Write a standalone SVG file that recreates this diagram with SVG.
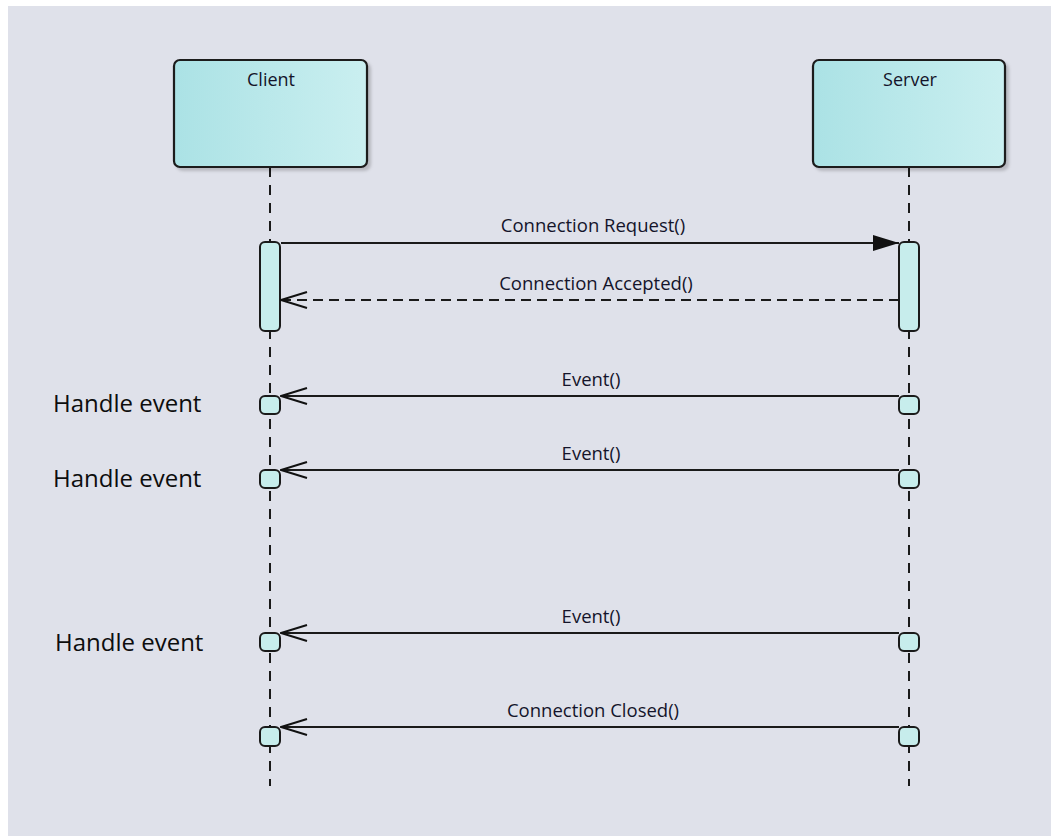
<svg xmlns="http://www.w3.org/2000/svg" width="1051" height="836" viewBox="0 0 1051 836">
  <defs>
    <linearGradient id="headFill" x1="0" y1="0" x2="1" y2="0">
      <stop offset="0" stop-color="#ABE2E5"/>
      <stop offset="1" stop-color="#CAEFF0"/>
    </linearGradient>
    <marker id="arrowFilled" viewBox="0 0 26 16" refX="26" refY="8" markerWidth="26" markerHeight="16" markerUnits="userSpaceOnUse" orient="auto">
      <path d="M0,0 L26,8 L0,16 Z" fill="#111"/>
    </marker>
    <marker id="arrowOpen" viewBox="0 0 28 20" refX="27" refY="10" markerWidth="28" markerHeight="20" markerUnits="userSpaceOnUse" orient="auto">
      <path d="M1,2 L27,10 L1,18" fill="none" stroke="#111" stroke-width="2"/>
    </marker>
    <filter id="shadow" x="-10%" y="-10%" width="130%" height="130%">
      <feDropShadow dx="3" dy="3" stdDeviation="1.5" flood-color="#000" flood-opacity="0.18"/>
    </filter>
  </defs>
  <style>
    .head { fill: url(#headFill); stroke: #1a1a1a; stroke-width: 2.2; filter: url(#shadow); }
    .act { fill: #C7EDEC; stroke: #1a1a1a; stroke-width: 2; }
    .lifeline { stroke: #1a1a1a; stroke-width: 2; stroke-dasharray: 10 8; fill: none; }
    .msg { stroke: #1a1a1a; stroke-width: 2; fill: none; }
    .reply { stroke-dasharray: 10 6; }
    .title { font-family: "Open Sans", "Noto Sans", sans-serif; font-size: 18px; fill: #14142a; text-anchor: middle; }
    .label { font-family: "Open Sans", "Noto Sans", sans-serif; font-size: 18.5px; fill: #14142a; text-anchor: middle; }
    .note { font-family: "Open Sans", "Noto Sans", sans-serif; font-size: 24px; fill: #0d0d0d; }
  </style>

  <!-- canvas -->
  <rect x="0" y="0" width="1051" height="836" fill="#ffffff"/>
  <rect x="8" y="6" width="1043" height="830" fill="#DFE1EA"/>

  <!-- lifelines -->
  <g id="lifelines">
    <line class="lifeline" x1="270" y1="167" x2="270" y2="786"/>
    <line class="lifeline" x1="909" y1="167" x2="909" y2="786"/>
  </g>

  <!-- Client lifeline head and activations -->
  <g id="client">
    <rect class="head" x="174" y="60" width="193" height="107" rx="6"/>
    <text class="title" x="271" y="86">Client</text>
    <rect class="act" x="260" y="242" width="20" height="89" rx="5"/>
    <rect class="act" x="260" y="396" width="20" height="18" rx="5"/>
    <rect class="act" x="260" y="470" width="20" height="18" rx="5"/>
    <rect class="act" x="260" y="633" width="20" height="18" rx="5"/>
    <rect class="act" x="260" y="727" width="20" height="19" rx="5"/>
  </g>

  <!-- Server lifeline head and activations -->
  <g id="server">
    <rect class="head" x="813" y="60" width="192" height="107" rx="6"/>
    <text class="title" x="910" y="86">Server</text>
    <rect class="act" x="899" y="242" width="20" height="89" rx="5"/>
    <rect class="act" x="899" y="396" width="20" height="18" rx="5"/>
    <rect class="act" x="899" y="470" width="20" height="18" rx="5"/>
    <rect class="act" x="899" y="633" width="20" height="18" rx="5"/>
    <rect class="act" x="899" y="727" width="20" height="19" rx="5"/>
  </g>

  <!-- messages -->
  <g id="messages">
    <line class="msg" x1="281" y1="243" x2="899" y2="243" marker-end="url(#arrowFilled)"/>
    <text class="label" x="593" y="232">Connection Request()</text>

    <line class="msg reply" x1="899" y1="300" x2="281" y2="300" marker-end="url(#arrowOpen)"/>
    <text class="label" x="596" y="290">Connection Accepted()</text>

    <line class="msg" x1="899" y1="396" x2="281" y2="396" marker-end="url(#arrowOpen)"/>
    <text class="label" x="591" y="386">Event()</text>

    <line class="msg" x1="899" y1="470" x2="281" y2="470" marker-end="url(#arrowOpen)"/>
    <text class="label" x="591" y="460">Event()</text>

    <line class="msg" x1="899" y1="633" x2="281" y2="633" marker-end="url(#arrowOpen)"/>
    <text class="label" x="591" y="623">Event()</text>

    <line class="msg" x1="899" y1="727" x2="281" y2="727" marker-end="url(#arrowOpen)"/>
    <text class="label" x="593" y="717">Connection Closed()</text>
  </g>

  <!-- side notes -->
  <g id="notes">
    <text class="note" x="53" y="412">Handle event</text>
    <text class="note" x="53" y="487">Handle event</text>
    <text class="note" x="55" y="651">Handle event</text>
  </g>
</svg>
